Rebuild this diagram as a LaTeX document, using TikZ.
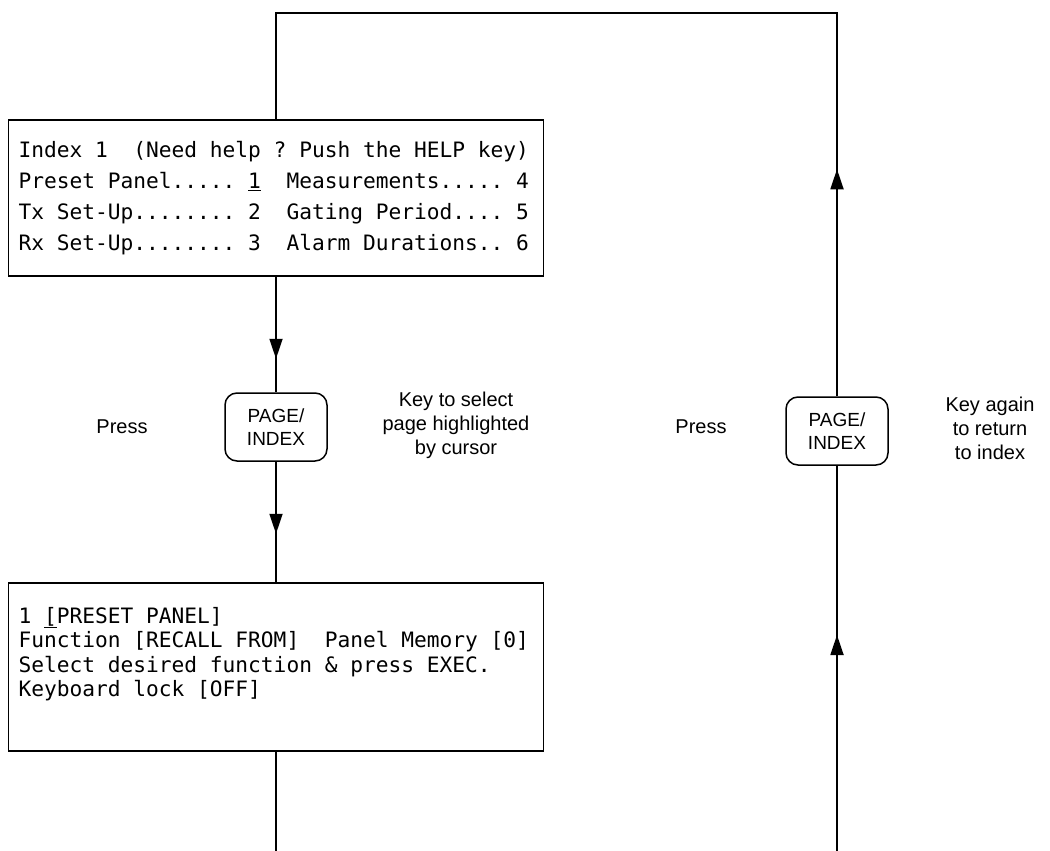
\documentclass[tikz,border=0pt]{standalone}
\usepackage{fontspec}
\setmainfont{Liberation Sans}
\newfontfamily\screenfont{DejaVu Sans Mono}
\usetikzlibrary{arrows.meta,decorations.markings}

% monospaced screen text, blanks as wide as a letter
\newcommand\screentext[1]{\screenfont\fontsize{21.2}{#1}\selectfont\frenchspacing}
\newcommand\fixblanks{\spaceskip=0.602em\xspaceskip=0.602em\relax}

\tikzset{
  screen/.style={draw, line width=1.5pt, rectangle, minimum width=535pt,
    align=left, text width=515pt, inner xsep=10pt,
    font=\screentext{31}},
  pagekey/.style={draw, line width=1.5pt, rounded corners=12pt,
    minimum width=102pt, minimum height=68pt, align=center,
    font=\fontsize{19}{23}\selectfont},
  note/.style={align=center, font=\fontsize{20}{24}\selectfont},
  flow/.style={line width=1.8pt},
  arrowat/.style={postaction={decorate}, decoration={markings,
    mark=at position #1 with {\arrow{Triangle[length=20pt,width=13pt]}}}}
}

\begin{document}
\begin{tikzpicture}[x=1pt,y=-1pt]
  % Fix the picture size
  \useasboundingbox (0,0) rectangle (1050,851);

  % Columns of the left and right flow lines
  \def\lx{276}
  \def\rx{837}

  % Index screen
  \node[screen, minimum height=156pt] (index) at (\lx,198) {\fixblanks
    Index~1~~(Need help ? Push the HELP key)\\
    Preset Panel..... \underline{1}~~Measurements..... 4\\
    Tx Set-Up........ 2~~Gating Period.... 5\\
    Rx Set-Up........ 3~~Alarm Durations.. 6};

  % Preset panel screen
  \node[screen, minimum height=168pt, font=\screentext{24.5}] (preset) at (\lx,667) {\fixblanks
    1 \underline{[}PRESET PANEL]\\
    Function [RECALL FROM]~~Panel Memory [0]\\
    Select desired function \& press EXEC.\\
    Keyboard lock [OFF]\\[6pt]
    \mbox{}};

  % The two PAGE/INDEX keys
  \node[pagekey] (keyL) at (\lx,427) {PAGE/\\INDEX};
  \node[pagekey] (keyR) at (\rx,431) {PAGE/\\INDEX};

  % Texts beside the keys
  \node[note] (pressL) at (122,427) {Press};
  \node[note] (hintL) at (456,425) {Key to select\\page highlighted\\by cursor};
  \node[note] (pressR) at (701,427) {Press};
  \node[note] (hintR) at (990,428) {Key again\\to return\\to index};

  % Corners and loose ends of the loop
  \coordinate (topL) at (\lx,13);
  \coordinate (topR) at (\rx,13);
  \coordinate (endL) at (\lx,851);
  \coordinate (endR) at (\rx,851);

  % Down the left side
  \draw[flow, arrowat=82pt] (index.south) -- (keyL.north);
  \draw[flow, arrowat=72pt] (keyL.south) -- (preset.north);
  \draw[flow] (preset.south) -- (endL);

  % Back up the right side and over the top
  \draw[flow, arrowat=216pt] (endR) -- (keyR.south);
  \draw[flow, arrowat=227pt] (keyR.north) -- (topR) -- (topL) -- (index.north);
\end{tikzpicture}
\end{document}
